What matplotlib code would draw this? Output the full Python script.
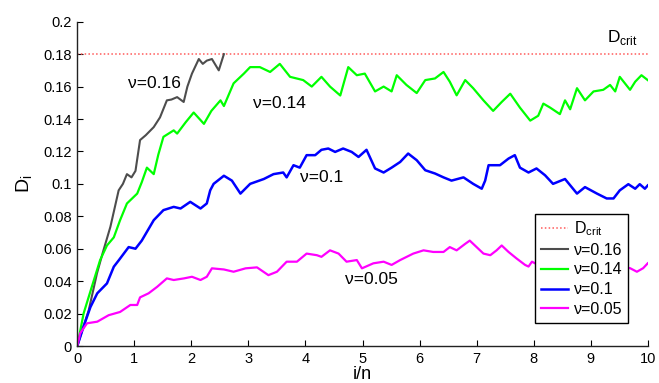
import matplotlib
matplotlib.use('Agg')
import matplotlib.pyplot as plt

plt.rcParams['font.family'] = ['Liberation Sans', 'DejaVu Sans']
plt.rcParams['mathtext.fontset'] = 'custom'
plt.rcParams['mathtext.rm'] = 'Liberation Sans'

# critical level
d_crit = 0.18

# nu = 0.16 (gray)
x16 = [0, 0.05, 0.2, 0.345, 0.45, 0.58, 0.725, 0.8, 0.87, 0.95, 1.02, 1.10, 1.2, 1.34,
       1.45, 1.57, 1.65, 1.75, 1.865, 1.93, 2.01, 2.13, 2.2, 2.27, 2.36, 2.48, 2.57]
y16 = [0, 0.0057, 0.022, 0.0448, 0.058, 0.0735, 0.096, 0.100, 0.106, 0.104, 0.108, 0.127,
       0.130, 0.135, 0.141, 0.1515, 0.152, 0.1535, 0.1505, 0.16, 0.168, 0.177, 0.174, 0.176,
       0.177, 0.170, 0.180]

# nu = 0.14 (green)
x14 = [0, 0.11, 0.25, 0.40, 0.52, 0.64, 0.75, 0.87, 1.05, 1.13, 1.22, 1.34, 1.42, 1.51,
       1.69, 1.75, 1.9, 2.04, 2.22, 2.35, 2.51, 2.57, 2.74, 2.92, 3.03, 3.2, 3.38, 3.55,
       3.73, 3.96, 4.11, 4.28, 4.43, 4.61, 4.75, 4.90, 5.04, 5.22, 5.37, 5.51, 5.60, 5.77,
       5.95, 6.10, 6.27, 6.42, 6.53, 6.65, 6.80, 6.94, 7.12, 7.29, 7.44, 7.59, 7.76, 7.94,
       8.08, 8.17, 8.29, 8.46, 8.55, 8.64, 8.76, 8.90, 9.05, 9.22, 9.34, 9.43, 9.51, 9.69,
       9.78, 9.89, 10.0]
y14 = [0, 0.020, 0.036, 0.053, 0.062, 0.067, 0.0776, 0.0879, 0.094, 0.101, 0.110, 0.106,
       0.118, 0.129, 0.133, 0.131, 0.138, 0.144, 0.137, 0.145, 0.1515, 0.148, 0.162, 0.168,
       0.172, 0.172, 0.169, 0.174, 0.166, 0.164, 0.160, 0.166, 0.160, 0.1545, 0.172, 0.167,
       0.168, 0.157, 0.160, 0.157, 0.167, 0.161, 0.156, 0.164, 0.165, 0.169, 0.163, 0.1546,
       0.164, 0.159, 0.1515, 0.145, 0.1505, 0.1556, 0.147, 0.139, 0.142, 0.1495, 0.147,
       0.143, 0.1515, 0.146, 0.159, 0.1515, 0.157, 0.158, 0.161, 0.157, 0.166, 0.158,
       0.163, 0.167, 0.164]

# nu = 0.1 (blue)
x10 = [0, 0.11, 0.23, 0.35, 0.52, 0.64, 0.73, 0.90, 1.02, 1.13, 1.34, 1.51, 1.69, 1.81,
       1.98, 2.16, 2.27, 2.33, 2.39, 2.57, 2.71, 2.86, 3.03, 3.27, 3.44, 3.61, 3.67, 3.79,
       3.90, 4.02, 4.17, 4.28, 4.40, 4.52, 4.66, 4.81, 4.93, 5.07, 5.22, 5.37, 5.51, 5.66,
       5.80, 5.95, 6.10, 6.27, 6.42, 6.56, 6.77, 6.94, 7.09, 7.15, 7.21, 7.41, 7.56, 7.67,
       7.76, 7.91, 8.05, 8.20, 8.34, 8.55, 8.76, 8.90, 9.11, 9.28, 9.40, 9.51, 9.66, 9.78,
       9.86, 9.95, 10.0]
y10 = [0, 0.012, 0.024, 0.0325, 0.0386, 0.0489, 0.053, 0.061, 0.060, 0.065, 0.0776,
       0.0838, 0.0858, 0.0848, 0.0889, 0.0848, 0.0879, 0.096, 0.100, 0.105, 0.102, 0.094,
       0.100, 0.103, 0.106, 0.107, 0.104, 0.1115, 0.110, 0.1177, 0.1177, 0.121, 0.1218,
       0.1197, 0.1218, 0.1197, 0.1166, 0.121, 0.1095, 0.107, 0.110, 0.1135, 0.1187, 0.1146,
       0.1084, 0.1064, 0.104, 0.102, 0.104, 0.100, 0.097, 0.102, 0.1115, 0.1115, 0.1156,
       0.1177, 0.110, 0.107, 0.1095, 0.1053, 0.100, 0.103, 0.094, 0.098, 0.094, 0.091,
       0.091, 0.096, 0.0998, 0.097, 0.0998, 0.097, 0.099]

# nu = 0.05 (magenta)
x05 = [0, 0.05, 0.17, 0.35, 0.55, 0.75, 0.93, 1.05, 1.10, 1.25, 1.40, 1.57, 1.69, 1.87,
       2.01, 2.16, 2.27, 2.36, 2.57, 2.74, 2.95, 3.15, 3.35, 3.50, 3.67, 3.85, 4.02, 4.20,
       4.28, 4.43, 4.58, 4.72, 4.90, 4.99, 5.19, 5.37, 5.51, 5.66, 5.89, 6.07, 6.24, 6.42,
       6.53, 6.65, 6.80, 6.88, 7.00, 7.12, 7.24, 7.35, 7.44, 7.56, 7.70, 7.85, 7.91, 7.97,
       8.08, 8.3, 8.6, 8.9, 9.2, 9.5, 9.69, 9.81, 9.92, 10.0]
y05 = [0, 0.0078, 0.014, 0.015, 0.019, 0.021, 0.0253, 0.0253, 0.030, 0.0325, 0.0365,
       0.0417, 0.0407, 0.0417, 0.0427, 0.0407, 0.0427, 0.0479, 0.0472, 0.0458, 0.0479,
       0.0485, 0.0437, 0.0458, 0.052, 0.052, 0.057, 0.056, 0.055, 0.059, 0.057, 0.052,
       0.053, 0.0479, 0.051, 0.052, 0.050, 0.053, 0.057, 0.059, 0.058, 0.058, 0.061, 0.059,
       0.063, 0.065, 0.061, 0.057, 0.056, 0.059, 0.062, 0.058, 0.054, 0.050, 0.049, 0.052,
       0.050, 0.049, 0.051, 0.052, 0.050, 0.049, 0.048, 0.0458, 0.048, 0.051]

xticks = list(range(11))
yticks = [0, 0.02, 0.04, 0.06, 0.08, 0.1, 0.12, 0.14, 0.16, 0.18, 0.2]
ytick_labels = ['0', '0.02', '0.04', '0.06', '0.08', '0.1', '0.12', '0.14', '0.16', '0.18', '0.2']

fig = plt.figure(figsize=(6.59, 3.83), dpi=100)
ax = fig.add_axes([0.1173, 0.0966, 0.8656, 0.8467])

ax.plot([0, 10], [d_crit, d_crit], linestyle=(0, (1, 1.5)), color='#ff5a5a', lw=1.1,
        label=r'D$_\mathregular{crit}$')
ax.plot(x16, y16, color='#4d4d4d', lw=1.5, label='ν=0.16')
ax.plot(x14, y14, color='#00ff00', lw=1.6, label='ν=0.14')
ax.plot(x10, y10, color='#0000ff', lw=1.8, label='ν=0.1')
ax.plot(x05, y05, color='#ff00ff', lw=1.6, label='ν=0.05')

# curve labels
ax.text(0.89, 0.162, 'ν=0.16', fontsize=12.5, va='center')
ax.text(3.08, 0.1497, 'ν=0.14', fontsize=12.5, va='center')
ax.text(3.90, 0.104, 'ν=0.1', fontsize=12.5, va='center')
ax.text(4.69, 0.0413, 'ν=0.05', fontsize=12.5, va='center')
ax.text(9.28, 0.1875, r'D$_\mathregular{crit}$', fontsize=12.5, va='baseline')

ax.set_xlim(0, 10)
ax.set_ylim(0, 0.2)
ax.set_xticks(xticks)
ax.set_yticks(yticks)
ax.set_yticklabels(ytick_labels)
ax.tick_params(direction='in', length=4, width=0.8, labelsize=10.5, pad=4, colors='black')

for s in ['top', 'right']:
    ax.spines[s].set_visible(False)
for s in ['left', 'bottom']:
    ax.spines[s].set_linewidth(1.0)
    ax.spines[s].set_color('#222222')

ax.set_xlabel('i/n', fontsize=13, labelpad=0.5)
ax.set_ylabel(r'D$_\mathregular{i}$', fontsize=14, labelpad=6)

leg = ax.legend(loc='lower right', bbox_to_anchor=(0.966, 0.072), fontsize=11.5,
                fancybox=False, edgecolor='black', framealpha=1, handlelength=1.7,
                borderpad=0.35, labelspacing=0.3, handletextpad=0.4, borderaxespad=0)
leg.get_frame().set_linewidth(1.0)

fig.savefig('out.png', dpi=100)
